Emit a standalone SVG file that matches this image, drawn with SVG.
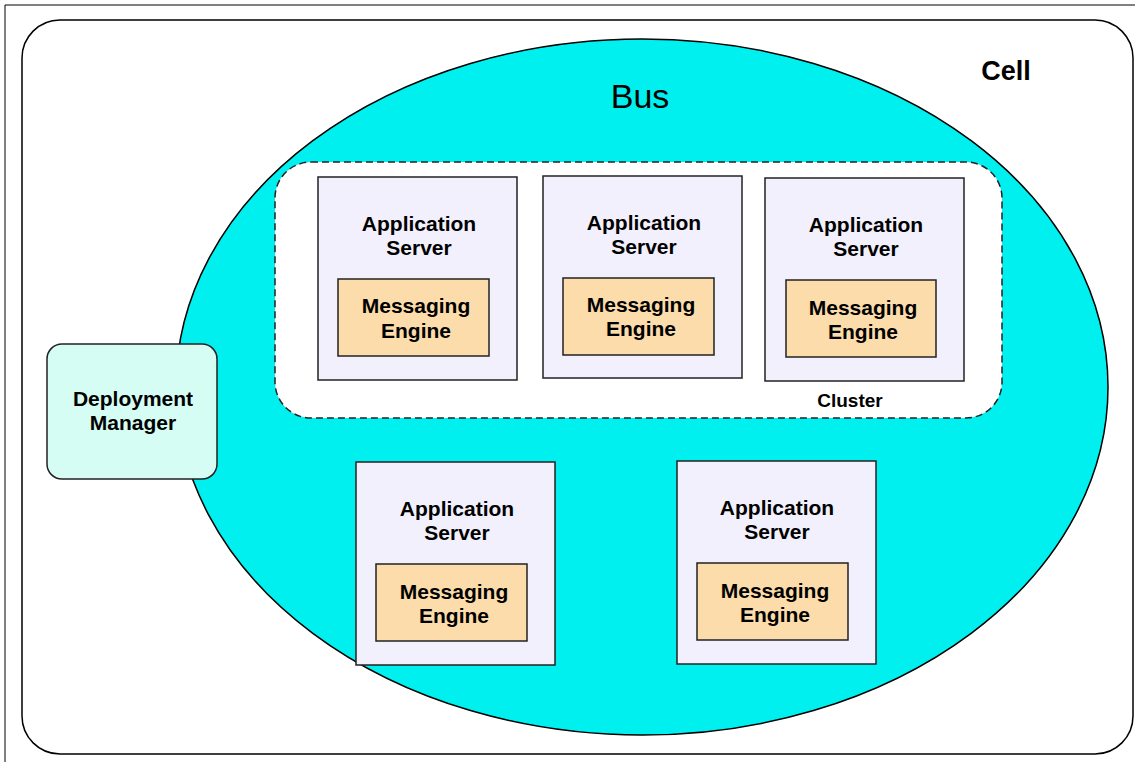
<svg xmlns="http://www.w3.org/2000/svg" width="1135" height="762" viewBox="0 0 1135 762">
<style>
.t{font-family:"Liberation Sans",Arial,sans-serif;font-weight:bold;fill:#000;text-anchor:middle}
.as{fill:#F2F0FC;stroke:#222;stroke-width:1.5}
.me{fill:#FCDCAA;stroke:#222;stroke-width:1.5}
.lbl{font-size:21px}
</style>
<rect x="0" y="0" width="1135" height="762" fill="#fff"/>
<path d="M5 762 V5 H1135" fill="none" stroke="#000" stroke-width="1"/>
<g id="cell">
<rect x="22" y="20" width="1111" height="734" rx="38" ry="38" fill="#fff" stroke="#000" stroke-width="1.5"/>
<text class="t" x="1006" y="80" font-size="27">Cell</text>
</g>
<g id="bus">
<ellipse cx="642" cy="387" rx="466" ry="348" fill="#00EFEF" stroke="#000" stroke-width="1.5"/>
<text x="640" y="108" font-family="Liberation Sans,Arial,sans-serif" font-size="34" text-anchor="middle" fill="#000">Bus</text>
</g>
<g id="cluster">
<rect x="275" y="162" width="727" height="256" rx="36" ry="36" fill="#fff" stroke="#222" stroke-width="1.5" stroke-dasharray="7,4"/>
<text class="t" x="850" y="407" font-size="19">Cluster</text>
</g>
<g id="deployment-manager">
<rect x="47" y="344" width="170" height="135" rx="15" ry="15" fill="#D5FDF3" stroke="#222" stroke-width="1.5"/>
<text class="t lbl" x="133" y="406">Deployment</text>
<text class="t lbl" x="133" y="430">Manager</text>
</g>
<g id="as1">
<rect class="as" x="318" y="177" width="199" height="203"/>
<text class="t lbl" x="419" y="231">Application</text>
<text class="t lbl" x="419" y="255">Server</text>
<rect class="me" x="338" y="279" width="151" height="77"/>
<text class="t lbl" x="416" y="313">Messaging</text>
<text class="t lbl" x="416" y="338">Engine</text>
</g>
<g id="as2">
<rect class="as" x="543" y="176" width="199" height="202"/>
<text class="t lbl" x="644" y="230">Application</text>
<text class="t lbl" x="644" y="254">Server</text>
<rect class="me" x="563" y="278" width="151" height="77"/>
<text class="t lbl" x="641" y="312">Messaging</text>
<text class="t lbl" x="641" y="336">Engine</text>
</g>
<g id="as3">
<rect class="as" x="765" y="178" width="199" height="203"/>
<text class="t lbl" x="866" y="232">Application</text>
<text class="t lbl" x="866" y="256">Server</text>
<rect class="me" x="786" y="280" width="150" height="77"/>
<text class="t lbl" x="863" y="315">Messaging</text>
<text class="t lbl" x="863" y="339">Engine</text>
</g>
<g id="as4">
<rect class="as" x="356" y="462" width="199" height="203"/>
<text class="t lbl" x="457" y="516">Application</text>
<text class="t lbl" x="457" y="540">Server</text>
<rect class="me" x="376" y="564" width="151" height="77"/>
<text class="t lbl" x="454" y="599">Messaging</text>
<text class="t lbl" x="454" y="623">Engine</text>
</g>
<g id="as5">
<rect class="as" x="677" y="461" width="199" height="203"/>
<text class="t lbl" x="777" y="515">Application</text>
<text class="t lbl" x="777" y="539">Server</text>
<rect class="me" x="697" y="563" width="151" height="77"/>
<text class="t lbl" x="775" y="598">Messaging</text>
<text class="t lbl" x="775" y="622">Engine</text>
</g>
<g id="connectors"></g>
</svg>
